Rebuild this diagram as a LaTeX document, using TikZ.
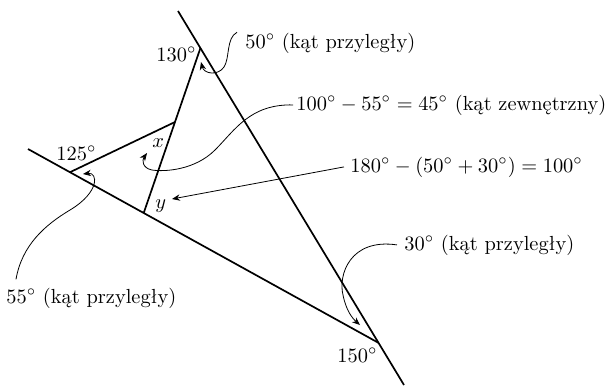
\documentclass[tikz,border=0pt]{standalone}
\usepackage{fontspec}
\usetikzlibrary{arrows.meta}
\begin{document}
\begin{tikzpicture}[x=0.5pt,y=-0.5pt,
  geo/.style={line width=0.85pt},
  note/.style={line width=0.4pt,-{Stealth[length=4pt,width=3.2pt]}},
  lbl/.style={inner sep=0pt,anchor=base west,scale=1.02,transform shape}]
\useasboundingbox (0,0) rectangle (608,386);
% points
\coordinate (T) at (178,11);
\coordinate (U) at (404,385);
\coordinate (L) at (28,149);
\coordinate (A) at (200.4,48.1);
\coordinate (B) at (70,172.2);
\coordinate (C) at (378.6,342.9);
\coordinate (D) at (143.7,213);
\coordinate (E) at (175,122);
% lines
\draw[geo] (T) -- (U);
\draw[geo] (L) -- (C);
\draw[geo] (A) -- (D);
\draw[geo] (B) -- (E);
% angle labels
\node[lbl] (a130) at (156,61) {$130^\circ$};
\node[lbl] (a125) at (56,160) {$125^\circ$};
\node[lbl] (a150) at (337,362) {$150^\circ$};
\node[lbl] (vx) at (152,147) {$x$};
\node[lbl] (vy) at (155,208) {$y$};
% notes
\node[lbl] (n50) at (245,48) {$50^\circ$ (kąt przyległy)};
\node[lbl] (n45) at (296,110) {$100^\circ-55^\circ=45^\circ$ (kąt zewnętrzny)};
\node[lbl] (n100) at (350,172) {$180^\circ-(50^\circ+30^\circ)=100^\circ$};
\node[lbl] (n30) at (404,250) {$30^\circ$ (kąt przyległy)};
\node[lbl] (n55) at (6,303) {$55^\circ$ (kąt przyległy)};
% arrow tips
\coordinate (t50) at (201,62);
\coordinate (t45) at (147,153);
\coordinate (t100) at (172,199);
\coordinate (t55) at (83,174);
\coordinate (t30) at (360,325);
% connectors
\draw[note] ([xshift=-4pt]n50.north west) .. controls (226,38) and (230,58) .. (224,67)
   .. controls (218,76) and (204,74) .. (t50);
\draw[note] ([xshift=-1.5pt]n45.west) .. controls (250,104) and (235,130) .. (215,150)
   .. controls (195,170) and (165,172) .. (152,170) .. controls (142,168) and (142,160) .. (t45);
\draw[note] ([xshift=-3pt]n100.west) -- (t100);
\draw[note] ([xshift=5pt,yshift=4pt]n55.north west) .. controls (22,245) and (45,225) .. (70,210)
   .. controls (100,192) and (98,172) .. (t55);
\draw[note] ([xshift=-3.5pt]n30.west) .. controls (350,238) and (338,275) .. (343,295)
   .. controls (346,310) and (352,318) .. (t30);
\end{tikzpicture}
\end{document}
